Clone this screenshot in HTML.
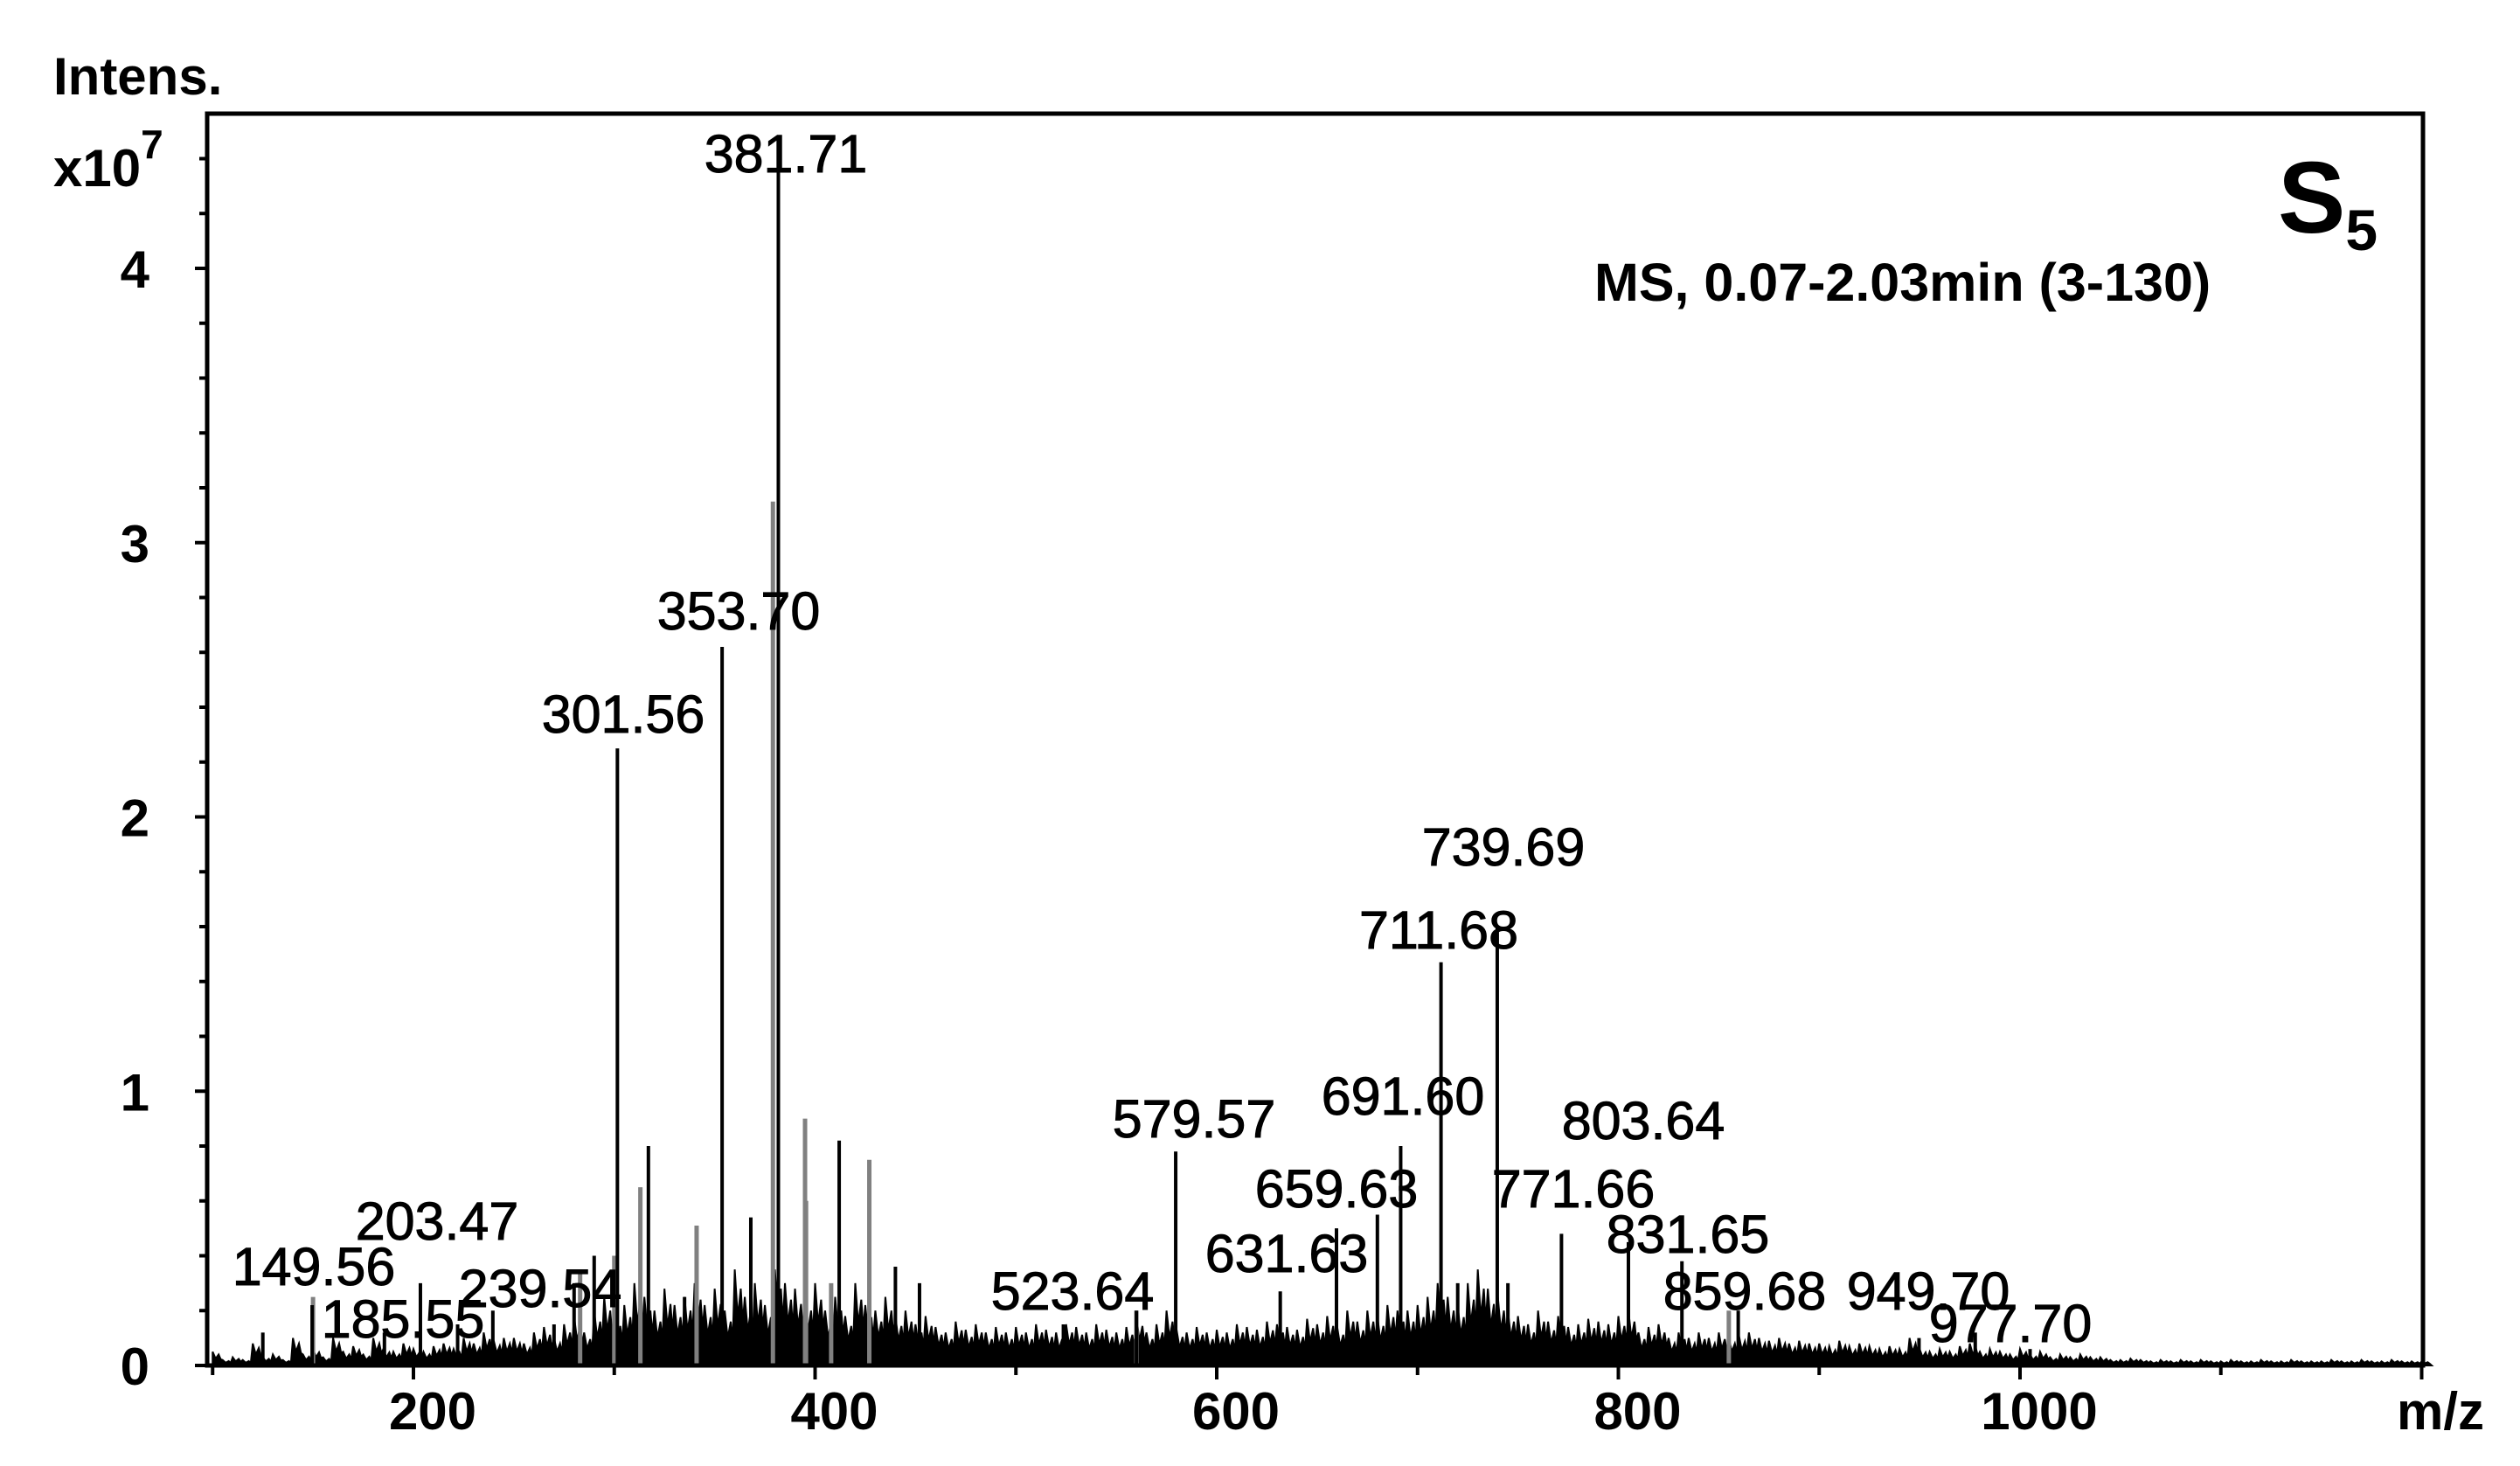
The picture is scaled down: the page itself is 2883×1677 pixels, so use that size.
<!DOCTYPE html>
<html><head><meta charset="utf-8"><style>
html,body{margin:0;padding:0;background:#fff;}
svg{display:block;font-family:"Liberation Sans",Arial,sans-serif;}
.lbl{font-size:61px;fill:#000;stroke:#000;stroke-width:1px;}
.tk{font-size:60px;font-weight:bold;fill:#000;}
</style></head><body>
<svg id="chart" width="2883" height="1677" viewBox="0 0 2883 1677" xmlns="http://www.w3.org/2000/svg">
<rect x="0" y="0" width="2883" height="1677" fill="#fff"/>
<g id="marks"></g>
<g id="axes"></g>
<text x="61" y="108" class="tk">Intens.</text>
<text x="61" y="213" class="tk">x10<tspan dy="-32" font-size="46">7</tspan></text>
<text x="2742" y="1635" class="tk">m/z</text>
<text x="2606" y="266" font-size="116" font-weight="bold">S<tspan font-size="66" dy="20">5</tspan></text>
<text x="1824" y="344" font-size="61" font-weight="bold">MS, 0.07-2.03min (3-130)</text>
<g>
<text class="lbl" x="899" y="197" text-anchor="middle">381.71</text>
<text class="lbl" x="845" y="720" text-anchor="middle">353.70</text>
<text class="lbl" x="713" y="838" text-anchor="middle">301.56</text>
<text class="lbl" x="500" y="1418" text-anchor="middle">203.47</text>
<text class="lbl" x="359" y="1470" text-anchor="middle">149.56</text>
<text class="lbl" x="461" y="1530" text-anchor="middle">185.55</text>
<text class="lbl" x="618" y="1495" text-anchor="middle">239.54</text>
<text class="lbl" x="1227" y="1498" text-anchor="middle">523.64</text>
<text class="lbl" x="1366" y="1301" text-anchor="middle">579.57</text>
<text class="lbl" x="1472" y="1455" text-anchor="middle">631.63</text>
<text class="lbl" x="1529" y="1381" text-anchor="middle">659.63</text>
<text class="lbl" x="1605" y="1275" text-anchor="middle">691.60</text>
<text class="lbl" x="1646" y="1085" text-anchor="middle">711.68</text>
<text class="lbl" x="1720" y="990" text-anchor="middle">739.69</text>
<text class="lbl" x="1800" y="1381" text-anchor="middle">771.66</text>
<text class="lbl" x="1880" y="1303" text-anchor="middle">803.64</text>
<text class="lbl" x="1931" y="1433" text-anchor="middle">831.65</text>
<text class="lbl" x="1996" y="1498" text-anchor="middle">859.68</text>
<text class="lbl" x="2206" y="1498" text-anchor="middle">949.70</text>
<text class="lbl" x="2300" y="1535" text-anchor="middle">977.70</text>
</g>
</svg>
<script>
// data (intensity in units of 1e7)
const noiseStart = 100;
const noiseStep = 5;
const noiseVals = [
.05,.02,.03,.02,.08,.03,.04,.02,.1,.04,
.06,.03,.1,.05,.07,.04,.1,.06,.05,.08,
.06,.05,.07,.08,.06,.1,.08,.12,.09,.1,
.1,.08,.12,.14,.1,.15,.18,.12,.2,.25,
.18,.22,.3,.25,.2,.28,.22,.25,.3,.22,
.28,.2,.35,.25,.3,.22,.35,.3,.28,.25,
.3,.2,.25,.18,.3,.22,.2,.25,.18,.2,
.15,.18,.14,.12,.16,.13,.15,.12,.14,.12,
.14,.12,.15,.13,.12,.15,.14,.12,.15,.13,
.12,.14,.18,.12,.15,.2,.13,.12,.14,.12,
.13,.12,.15,.14,.13,.16,.15,.14,.13,.17,
.15,.18,.14,.2,.16,.2,.18,.22,.2,.2,
.22,.25,.3,.25,.22,.3,.35,.28,.25,.2,
.18,.15,.2,.16,.18,.14,.15,.17,.16,.15,
.18,.2,.12,.14,.15,.1,.12,.1,.12,.1,
.12,.1,.11,.12,.1,.09,.1,.08,.09,.08,
.08,.07,.09,.07,.08,.07,.06,.07,.06,.1,
.06,.05,.06,.05,.07,.08,.05,.06,.05,.04,
.06,.04,.05,.03,.04,.03,.04,.03,.03,.02,
.02,.025,.02,.015,.02,.015,.02,.015,.02,.015,
.015,.02,.015,.015,.02,.015,.015,.02,.015,.015,
.015,.02,.015,.015,.02,.015,.015,.02,.015,.015,.015];
const peakMz = [381.71,353.70,301.56,317,368,412,440,290,280,335,125,149.56,185.55,203.47,239.54,222,270,452,523.64,560,579.57,631.63,659.63,680,691.60,711.68,720,739.69,745,771.66,805,831.65,859.68,949.70,977.70,1005];
const peakInt = [4.35,2.62,2.25,0.8,0.54,0.82,0.36,0.4,0.3,0.25,0.12,0.22,0.12,0.3,0.2,0.15,0.15,0.3,0.15,0.2,0.78,0.27,0.5,0.55,0.8,1.47,0.3,1.6,0.3,0.48,0.45,0.38,0.2,0.1,0.12,0.06];
const grayMz = [379,395,427,341,313,150,283,408,560,855,395.5,300];
const grayInt = [3.15,0.9,0.75,0.51,0.65,0.25,0.35,0.3,0.2,0.2,0.6,0.4];
const xTicks = [100,200,300,400,500,600,700,800,900,1000,1100,1200];
const xTickLabels = [200,400,600,800,1000];
const yTickLabels = [0,1,2,3,4];

const L=237,R=2772,T=130,B=1562;
function xs(mz){return 473+(mz-200)*(2311-473)/800;}
function ys(v){return B-v*313.75;}
const NS="http://www.w3.org/2000/svg";
const marks=document.getElementById('marks');
const axes=document.getElementById('axes');
function mk(tag,attrs,parent){const e=document.createElementNS(NS,tag);for(const k in attrs)e.setAttribute(k,attrs[k]);parent.appendChild(e);return e;}

// noise
let d='M'+xs(noiseStart)+' '+B;
noiseVals.forEach((v,i)=>{
  const m=noiseStart+i*noiseStep;
  d+=' L'+xs(m)+' '+ys(v)+' L'+xs(m+noiseStep*0.3)+' '+ys(v*0.5)+' L'+xs(m+noiseStep*0.6)+' '+ys(v*0.8)+' L'+xs(m+noiseStep*0.8)+' '+ys(v*0.45);
});
d+=' L'+xs(noiseStart+noiseVals.length*noiseStep)+' '+B+' Z';
const np=mk('path',{d:d,fill:'#000',stroke:'#000','stroke-width':2},marks);



grayMz.forEach((m,i)=>{
  const l=mk('line',{x1:xs(m),x2:xs(m),y1:B,y2:ys(grayInt[i]),stroke:'#808080','stroke-width':5},marks);
  
  
});
peakMz.forEach((m,i)=>{
  const l=mk('line',{x1:xs(m),x2:xs(m),y1:B,y2:ys(peakInt[i]),stroke:'#000','stroke-width':4},marks);
  
  
});

// frame
const fr=mk('rect',{x:L,y:T,width:R-L,height:B-T,fill:'none',stroke:'#000','stroke-width':5},axes);


for(let k=0;k<=22;k++){
  const v=k*0.2,y=ys(v);
  if(y<T+5)break;
  const major=(k%5===0);
  const t=mk('line',{x1:L-(major?14:9),x2:L,y1:y,y2:y,stroke:'#000','stroke-width':4},axes);
  
  
}
yTickLabels.forEach(v=>{
  const t=mk('text',{x:171,y:ys(v)+22,'text-anchor':'end',class:'tk'},axes);
  t.textContent=v;
  
  
});
xTicks.forEach(m=>{
  const t=mk('line',{x1:xs(m),x2:xs(m),y1:B,y2:B+(m%200===0?16:11),stroke:'#000','stroke-width':4},axes);
  
  
});
xTickLabels.forEach(m=>{
  const t=mk('text',{x:xs(m)+22,y:1635,'text-anchor':'middle',class:'tk'},axes);
  t.textContent=m;
  
  
});
</script>
</body></html>
